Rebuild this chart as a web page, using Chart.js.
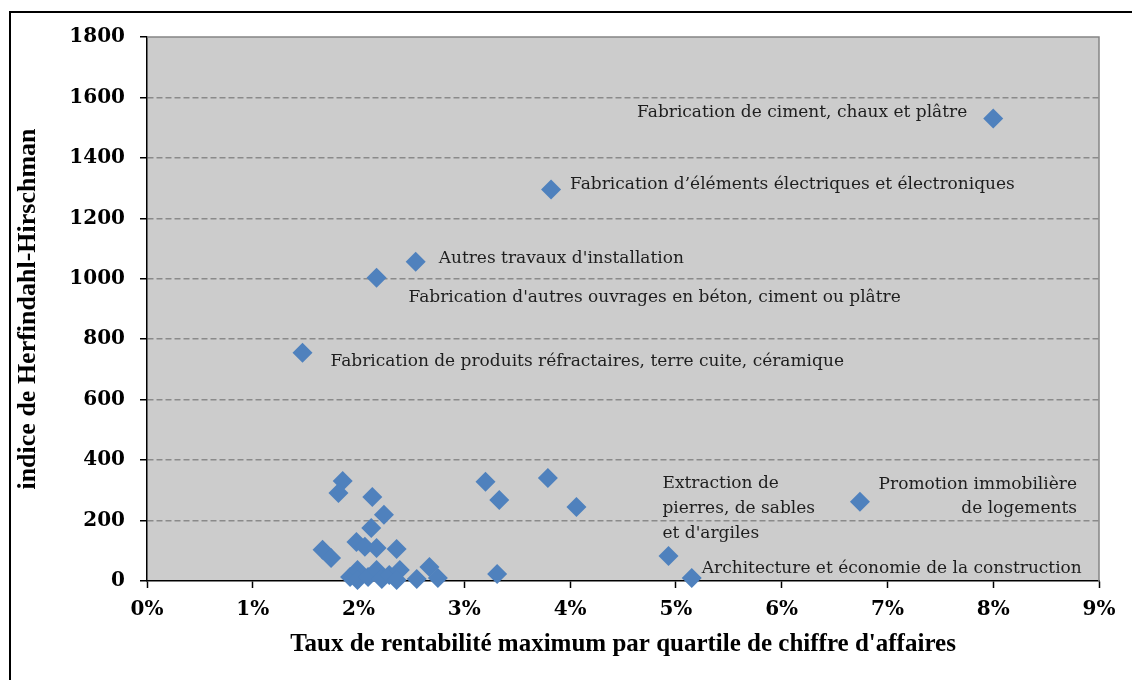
<!DOCTYPE html>
<html>
<head>
<meta charset="utf-8">
<script src="https://cdn.jsdelivr.net/npm/chart.js@4/dist/chart.umd.min.js"></script>
<style>
  body { margin: 0; background: #fff; }
</style>
</head>
<body>
<canvas id="scatter" width="1132" height="680"></canvas>
<script>
// taux de rentabilité (%) et indice HHI par secteur
const rates = [8.00, 3.82, 2.54, 2.17, 1.47, 6.74, 4.93, 5.15,
  3.20, 3.33, 3.79, 4.06, 3.31,
  1.85, 1.81, 2.13, 2.24, 2.12, 1.66, 1.74, 1.98, 2.06, 2.17, 2.36,
  2.67, 2.75, 2.55, 1.92, 1.99, 1.99, 2.09, 2.17, 2.22, 2.29, 2.39, 2.36];
const hhi = [1530, 1295, 1056, 1003, 755, 262, 83, 10,
  328, 268, 341, 245, 23,
  331, 291, 278, 219, 175, 103, 76, 129, 113, 109, 106,
  46, 10, 7, 13, 36, 3, 13, 36, 7, 20, 36, 3];
const sectors = [
  ['Fabrication de ciment, chaux et plâtre'],
  ['Fabrication d\u2019éléments électriques et électroniques'],
  ['Autres travaux d\'installation'],
  ['Fabrication d\'autres ouvrages en béton, ciment ou plâtre'],
  ['Fabrication de produits réfractaires, terre cuite, céramique'],
  ['Promotion immobilière', 'de logements'],
  ['Extraction de', 'pierres, de sables', 'et d\'argiles'],
  ['Architecture et économie de la construction']
];
const xTicks = [0, 1, 2, 3, 4, 5, 6, 7, 8, 9];
const yTicks = [0, 200, 400, 600, 800, 1000, 1200, 1400, 1600, 1800];

// où poser chaque étiquette par rapport à son point
const labelPlacement = [
  { dx: -26, dy: [-6], align: 'right' },
  { dx: 19, dy: [-5], align: 'left' },
  { dx: 23, dy: [-3], align: 'left' },
  { dx: 32, dy: [20], align: 'left' },
  { dx: 28, dy: [9], align: 'left' },
  { dx: 217, dy: [-17, 7], align: 'right' },
  { dx: -6, dy: [-72, -47, -22], align: 'left' },
  { dx: 10, dy: [-9], align: 'left' }
];

const serif = '"Liberation Serif", "DejaVu Serif", serif';
const wideSerif = '"DejaVu Serif", "Liberation Serif", serif';

const frameAndPlot = {
  id: 'frameAndPlot',
  beforeDraw(chart) {
    const { ctx, chartArea: a } = chart;
    ctx.save();
    ctx.fillStyle = '#fff';
    ctx.fillRect(0, 0, chart.width, chart.height);
    ctx.strokeStyle = '#000';
    ctx.lineWidth = 2;
    ctx.strokeRect(10, 12, 1140, 700);
    ctx.fillStyle = '#cccccc';
    ctx.fillRect(a.left, a.top, a.right - a.left, a.bottom - a.top);
    ctx.restore();
  },
  beforeDatasetsDraw(chart) {
    const { ctx, chartArea: a } = chart;
    ctx.save();
    ctx.strokeStyle = '#858585';
    ctx.lineWidth = 1.5;
    ctx.beginPath();
    ctx.moveTo(a.left, a.top);
    ctx.lineTo(a.right, a.top);
    ctx.lineTo(a.right, a.bottom);
    ctx.stroke();
    ctx.restore();
  }
};

const pointLabels = {
  id: 'pointLabels',
  afterDatasetsDraw(chart) {
    const { ctx } = chart;
    const meta = chart.getDatasetMeta(0);
    ctx.save();
    ctx.font = '17px ' + wideSerif;
    ctx.fillStyle = '#1e1e1e';
    ctx.textBaseline = 'middle';
    sectors.forEach((lines, i) => {
      const pt = meta.data[i];
      const p = labelPlacement[i];
      ctx.textAlign = p.align;
      lines.forEach((txt, j) => {
        ctx.fillText(txt, pt.x + p.dx, pt.y + p.dy[j]);
      });
    });
    ctx.restore();
  }
};

new Chart(document.getElementById('scatter'), {
  type: 'scatter',
  data: {
    datasets: [{
      data: rates.map((r, i) => ({ x: r, y: hhi[i] })),
      pointStyle: 'rectRot',
      pointRadius: 10,
      pointHoverRadius: 10,
      backgroundColor: '#4f81bd',
      borderWidth: 0,
      clip: false
    }]
  },
  options: {
    responsive: false,
    animation: false,
    events: [],
    layout: { padding: { left: 0, top: 37, right: 33, bottom: 0 } },
    plugins: { legend: { display: false }, tooltip: { enabled: false } },
    scales: {
      x: {
        type: 'linear',
        min: 0, max: 9,
        afterBuildTicks: s => { s.ticks = xTicks.map(v => ({ value: v })); },
        afterFit: s => { s.height = 99; },
        ticks: {
          callback: v => v + '%',
          color: '#000',
          padding: 10,
          maxRotation: 0,
          font: { family: wideSerif, size: 20, weight: 'bold' }
        },
        grid: { drawOnChartArea: false, tickLength: 7, tickColor: '#000', tickWidth: 1.5 },
        border: { color: '#000', width: 1.5 },
        title: {
          display: true,
          text: 'Taux de rentabilité maximum par quartile de chiffre d\'affaires',
          color: '#000',
          font: { family: serif, size: 25, weight: 'bold' },
          padding: { top: 0, bottom: 20 }
        }
      },
      y: {
        min: 0, max: 1800,
        afterBuildTicks: s => { s.ticks = yTicks.map(v => ({ value: v })); },
        afterFit: s => { s.width = 147; },
        ticks: {
          callback: v => String(v),
          color: '#000',
          padding: 15,
          font: { family: wideSerif, size: 20, weight: 'bold' }
        },
        grid: {
          color: c => (c.tick && (c.tick.value === 1800 || c.tick.value === 0)) ? 'rgba(0,0,0,0)' : '#8a8a8a',
          lineWidth: 1.5,
          tickLength: 7,
          tickColor: '#000',
          tickWidth: 1.5
        },
        border: { color: '#000', width: 1.5, dash: [6, 3] },
        title: {
          display: true,
          text: 'indice de Herfindahl-Hirschman',
          color: '#000',
          font: { family: serif, size: 26, weight: 'bold' },
          padding: { top: 13, bottom: 0 }
        }
      }
    }
  },
  plugins: [frameAndPlot, pointLabels]
});
</script>
</body>
</html>
